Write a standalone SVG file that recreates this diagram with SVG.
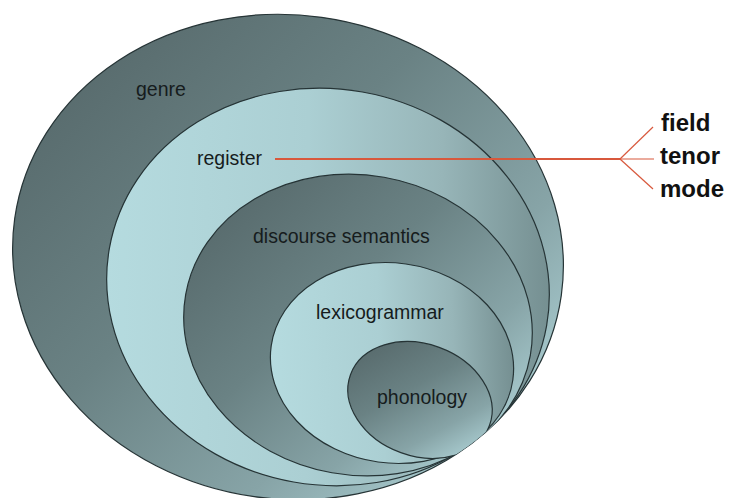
<svg xmlns="http://www.w3.org/2000/svg" width="733" height="498" viewBox="0 0 733 498">
<defs>
<style>
.ring{stroke:#263436;stroke-width:1.2}
.lbl{font-family:"Liberation Sans",Arial,sans-serif;font-size:19.5px;fill:#161c1d}
.ctx{font-family:"Liberation Sans",Arial,sans-serif;font-size:24px;font-weight:bold;fill:#111}
.red{stroke:#d8583c;fill:none}
</style>
<linearGradient id="dark" x1="0.05" y1="0.2" x2="0.95" y2="0.8">
<stop offset="0" stop-color="#586b6d"/>
<stop offset="0.4" stop-color="#6a8284"/>
<stop offset="0.75" stop-color="#87a4a7"/>
<stop offset="1" stop-color="#aacdd1"/>
</linearGradient>
<linearGradient id="light" x1="0" y1="0.55" x2="1" y2="0.4">
<stop offset="0" stop-color="#b5dbdf"/>
<stop offset="0.45" stop-color="#abcfd3"/>
<stop offset="0.75" stop-color="#97b5b8"/>
<stop offset="1" stop-color="#748e90"/>
</linearGradient>
<clipPath id="inGenre">
<ellipse cx="288" cy="257" rx="276" ry="242" transform="rotate(8 288 257)"/>
</clipPath>
</defs>
<rect width="733" height="498" fill="#ffffff"/>
<g id="genre">
<ellipse class="ring" cx="288" cy="257" rx="276" ry="242" transform="rotate(8 288 257)" fill="url(#dark)"/>
<text class="lbl" x="136" y="96">genre</text>
</g>
<g clip-path="url(#inGenre)">
<g id="register">
<ellipse class="ring" cx="328" cy="287" rx="222" ry="198" transform="rotate(10 328 287)" fill="url(#light)"/>
<text class="lbl" x="197" y="165">register</text>
</g>
<g id="discourse-semantics">
<ellipse class="ring" cx="358" cy="325" rx="175" ry="150" transform="rotate(10 358 325)" fill="url(#dark)"/>
<text class="lbl" x="253" y="243">discourse semantics</text>
</g>
<g id="lexicogrammar">
<ellipse class="ring" cx="392" cy="363" rx="122" ry="100" transform="rotate(8 392 363)" fill="url(#light)"/>
<text class="lbl" x="316" y="319">lexicogrammar</text>
</g>
<g id="phonology">
<ellipse class="ring" cx="420" cy="400" rx="74" ry="56" transform="rotate(20 420 400)" fill="url(#dark)"/>
<text class="lbl" x="377" y="404">phonology</text>
</g>
</g>
<g id="connectors">
<line class="red" x1="275" y1="159" x2="620" y2="159" stroke-width="1.8"/>
<line class="red" x1="620" y1="159" x2="653" y2="127" stroke-width="1.2"/>
<line class="red" x1="620" y1="159" x2="654" y2="159" stroke-width="1.2"/>
<line class="red" x1="620" y1="159" x2="653" y2="189" stroke-width="1.2"/>
</g>
<g id="context">
<text class="ctx" x="661" y="131">field</text>
<text class="ctx" x="660" y="164">tenor</text>
<text class="ctx" x="660" y="197">mode</text>
</g>
</svg>
